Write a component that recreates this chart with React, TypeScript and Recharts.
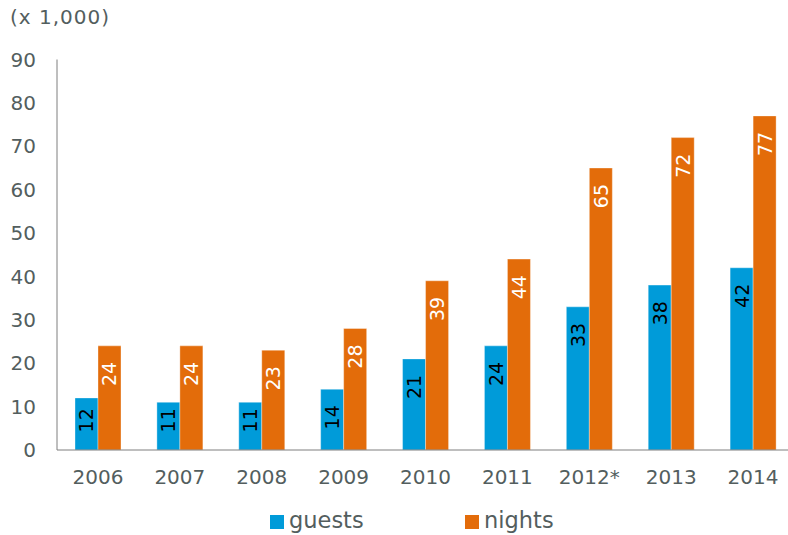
import React from "react";
import { BarChart, Bar, XAxis, YAxis, Legend, LabelList } from "recharts";

const years = ["2006", "2007", "2008", "2009", "2010", "2011", "2012*", "2013", "2014"];
const guests = [12, 11, 11, 14, 21, 24, 33, 38, 42];
const nights = [24, 24, 23, 28, 39, 44, 65, 72, 77];
const yTicks = [0, 10, 20, 30, 40, 50, 60, 70, 80, 90];

const data = years.map((y, i) => ({ year: y, guests: guests[i], nights: nights[i] }));

const FONT = "Verdana, 'DejaVu Sans', sans-serif";
const TEXT = "#535e5e";
const BLUE = "#009bd9";
const ORANGE = "#e36c0a";
const BASE_Y = 450;

const makeLabel = (color: string) => (props: any) => {
  const { x, y, width, value } = props;
  const cx = Number(x) + Number(width) / 2;
  const len = String(value).length * 11.4;
  let endY = Number(y) + 16;
  if (endY + len > BASE_Y - 19) endY = BASE_Y - 19 - len;
  return (
    <text
      x={cx}
      y={endY}
      transform={`rotate(-90 ${cx} ${endY})`}
      textAnchor="end"
      dominantBaseline="central"
      fill={color}
      fontSize={19}
      fontFamily={FONT}
    >
      {value}
    </text>
  );
};

const LegendContent = () => (
  <div style={{ position: "relative", height: 45, width: "100%", fontFamily: FONT, fontSize: 22.5, color: TEXT }}>
    <div style={{ position: "absolute", left: 270, top: 25, width: 14, height: 14, background: BLUE }} />
    <div style={{ position: "absolute", left: 289, top: 17, lineHeight: "26px" }}>guests</div>
    <div style={{ position: "absolute", left: 465, top: 25, width: 14, height: 14, background: ORANGE }} />
    <div style={{ position: "absolute", left: 484, top: 17, lineHeight: "26px" }}>nights</div>
  </div>
);

export default function App() {
  return (
    <div style={{ position: "absolute", left: 0, top: 0, width: 788, height: 535, overflow: "hidden", background: "#fff", fontFamily: FONT }}>
      <div style={{ position: "absolute", left: 10, top: 4, fontSize: 20, color: TEXT, lineHeight: "26px", letterSpacing: 1 }}>(x 1,000)</div>
      <BarChart
        width={800}
        height={535}
        data={data}
        margin={{ top: 59.5, right: 6, left: 0, bottom: 0 }}
        barGap={0}
        barSize={23}
      >
        <XAxis
          dataKey="year"
          tickLine={false}
          tickSize={0}
          tickMargin={20}
          height={40}
          axisLine={{ stroke: "#7f7f7f", strokeWidth: 1 }}
          tick={{ fill: TEXT, fontSize: 20, fontFamily: FONT }}
          interval={0}
        />
        <YAxis
          domain={[0, 90]}
          ticks={yTicks}
          width={57}
          tickLine={false}
          tickSize={0}
          tickMargin={21}
          axisLine={{ stroke: "#7f7f7f", strokeWidth: 1 }}
          tick={{ fill: TEXT, fontSize: 20, fontFamily: FONT }}
          interval={0}
        />
        <Legend verticalAlign="bottom" height={45} content={<LegendContent />} />
        <Bar dataKey="guests" fill={BLUE} stroke="#ffffff" strokeOpacity={0.35} isAnimationActive={false}>
          <LabelList dataKey="guests" content={makeLabel("#000000")} />
        </Bar>
        <Bar dataKey="nights" fill={ORANGE} stroke="#ffffff" strokeOpacity={0.35} isAnimationActive={false}>
          <LabelList dataKey="nights" content={makeLabel("#ffffff")} />
        </Bar>
      </BarChart>
    </div>
  );
}
